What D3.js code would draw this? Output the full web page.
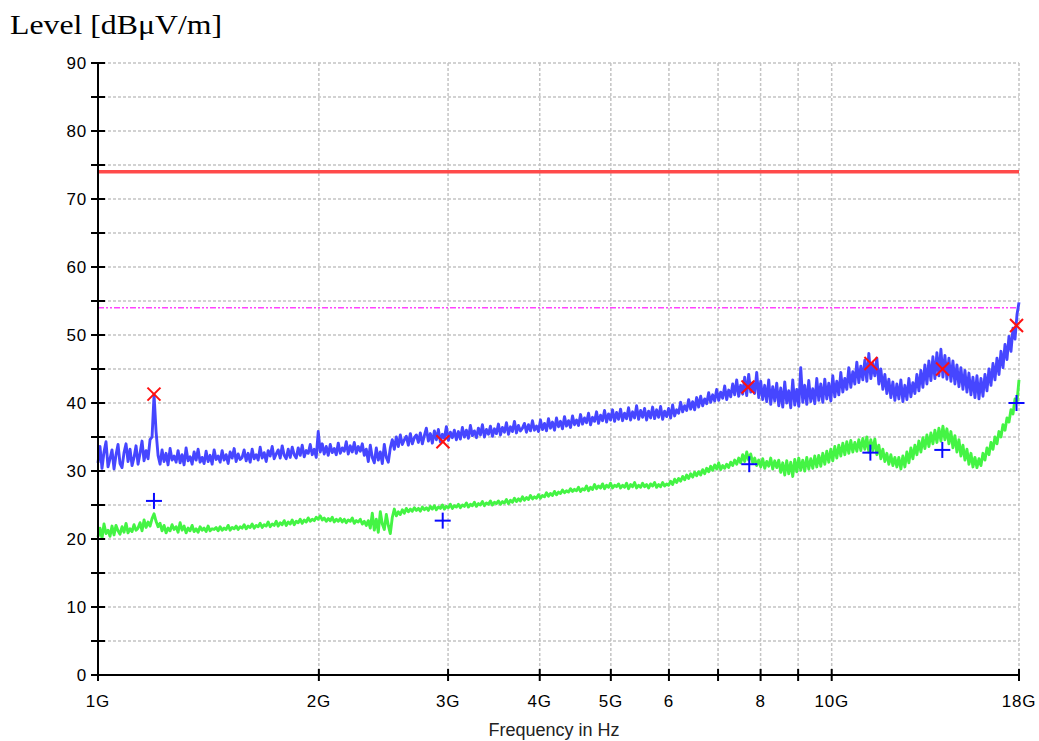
<!DOCTYPE html>
<html>
<head>
<meta charset="utf-8">
<script src="https://cdn.jsdelivr.net/npm/d3@7"></script>
<style>
  html, body { margin: 0; padding: 0; background: #fff; }
  svg { display: block; }
</style>
</head>
<body>
<svg id="chart" width="1039" height="741"></svg>
<script>
// Sweep definition: log-spaced receiver steps from 1 GHz to 18 GHz
const sweepStart = 1e9;
const sweepStop = 18e9;

// Peak detector trace (dBµV/m)
const peakTrace = [
  31.2, 33.6, 30.4, 32.8, 34.3, 30.6, 31.8, 33.1, 30.3, 32.4, 33.9, 31.1, 30.5, 32.7, 34.0, 31.4, 33.2, 30.8, 32.0, 33.7,
  31.0, 32.6, 34.4, 31.5, 33.0, 31.8, 34.6, 35.0, 41.2, 35.8, 32.3, 31.0, 33.1, 31.4, 32.6, 30.9, 33.3, 31.6, 32.2, 31.3,
  33.0, 31.2, 32.4, 30.9, 33.4, 31.5, 32.1, 31.0, 32.8, 31.6, 33.2, 31.3, 32.0, 31.1, 32.9, 31.4, 32.3, 31.0, 33.1, 31.7,
  32.2, 31.3, 33.0, 31.6, 32.4, 31.1, 32.8, 31.9, 33.3, 31.4, 32.5, 31.7, 32.0, 33.1, 31.5, 32.6, 31.3, 33.2, 31.8, 32.4,
  31.6, 33.5, 31.9, 32.7, 31.4, 33.0, 32.2, 33.6, 31.8, 32.5, 33.1, 31.9, 33.7, 32.3, 31.8, 33.2, 32.0, 33.5, 32.4, 31.9,
  33.4, 32.3, 33.8, 32.1, 33.0, 32.6, 33.9, 32.4, 33.2, 32.0, 35.8, 32.8, 34.0, 32.5, 33.6, 32.3, 33.9, 32.7, 33.3, 32.4,
  34.1, 32.6, 33.4, 32.9, 34.3, 32.5, 33.7, 32.8, 34.2, 32.6, 33.6, 32.9, 34.0, 32.3, 33.2, 31.4, 33.8, 32.0, 31.2, 33.4,
  31.6, 32.8, 31.1, 33.9, 32.0, 31.3, 33.4, 34.6, 33.2, 35.0, 33.6, 35.3, 33.9, 34.6, 35.1, 33.8, 35.5, 34.0, 34.9, 35.3,
  34.2, 35.6, 34.0, 35.2, 36.3, 34.4, 35.5, 34.1, 35.9, 34.6, 36.1, 34.3, 35.4, 34.8, 36.5, 34.5, 35.7, 34.9, 36.0, 34.6,
  35.8, 34.7, 36.4, 35.0, 36.0, 34.8, 36.7, 35.2, 35.9, 34.9, 36.3, 35.3, 36.8, 35.0, 36.1, 35.4, 36.6, 35.1, 36.2, 35.5,
  36.9, 35.3, 36.4, 35.7, 37.1, 35.4, 36.5, 35.8, 37.3, 35.6, 36.7, 35.9, 36.3, 37.0, 35.7, 36.8, 35.9, 37.4, 36.0, 36.6,
  35.8, 37.5, 36.1, 37.0, 35.9, 37.7, 36.3, 37.2, 36.0, 37.8, 36.5, 37.3, 36.2, 38.0, 36.6, 37.4, 36.4, 38.1, 36.8, 37.5,
  36.7, 38.3, 36.9, 37.8, 37.1, 38.5, 36.8, 37.9, 37.3, 38.7, 37.0, 38.2, 37.4, 38.9, 37.2, 38.4, 37.5, 39.0, 37.3, 38.6,
  37.6, 39.1, 37.4, 38.5, 37.7, 39.3, 37.5, 38.7, 37.8, 39.6, 37.6, 38.9, 37.9, 39.2, 37.5, 38.8, 37.8, 39.4, 37.7, 39.0,
  37.9, 39.5, 37.6, 38.8, 38.0, 39.2, 37.8, 39.7, 38.1, 39.0, 38.5, 40.1, 38.7, 39.6, 38.9, 40.5, 39.1, 40.2, 39.0, 40.8,
  39.4, 41.0, 39.6, 40.6, 39.9, 41.5, 40.1, 41.2, 40.3, 42.0, 40.4, 41.6, 40.7, 42.5, 40.5, 41.9, 40.9, 42.8, 41.2, 43.4,
  41.0, 42.6, 41.3, 43.8, 41.1, 44.2, 41.6, 43.0, 41.4, 44.5, 40.8, 43.2, 40.5, 42.6, 40.2, 43.4, 39.8, 42.4, 40.3, 42.9,
  39.6, 42.2, 39.4, 43.1, 40.0, 41.8, 39.3, 43.4, 39.7, 42.0, 39.5, 45.2, 40.1, 42.6, 39.8, 43.3, 40.2, 42.1, 39.9, 43.6,
  40.4, 42.8, 40.1, 43.5, 40.6, 42.9, 40.3, 44.0, 40.9, 43.2, 41.2, 44.5, 41.6, 43.6, 42.0, 45.2, 42.3, 44.6, 42.8, 46.0,
  43.0, 45.4, 43.4, 46.3, 43.2, 47.3, 43.6, 45.8, 44.0, 46.6, 42.8, 45.0, 42.0, 44.2, 41.4, 43.5, 40.8, 43.1, 40.4, 42.8,
  40.6, 43.4, 40.2, 42.6, 40.5, 43.6, 40.9, 43.0, 41.4, 44.2, 41.8, 44.8, 42.3, 45.6, 42.8, 46.2, 43.3, 46.8, 43.6, 47.4,
  44.0, 47.9, 43.8, 47.0, 43.5, 46.6, 43.2, 46.2, 42.8, 45.6, 42.4, 45.2, 42.0, 44.8, 41.6, 44.4, 41.2, 43.8, 40.8, 44.0,
  40.6, 43.6, 41.0, 44.2, 41.8, 45.0, 42.6, 45.8, 43.4, 46.6, 44.2, 47.6, 45.2, 48.6, 46.4, 49.8, 47.6, 51.0, 49.4, 53.0,
  54.8
];

// Average detector trace (dBµV/m)
const avgTrace = [
  20.3, 21.6, 20.1, 22.2, 20.8, 21.3, 20.4, 21.9, 20.6, 22.0, 21.2, 20.7, 21.8, 21.0, 22.3, 20.9, 21.5, 21.1, 22.1, 21.3,
  21.6, 22.4, 21.2, 22.8, 21.7, 22.5, 21.9, 23.0, 23.7, 22.6, 21.8, 22.3, 21.2, 22.0, 20.9, 21.6, 21.2, 22.1, 21.4, 21.8,
  21.0, 22.4, 21.3, 21.9, 20.9, 21.6, 21.2, 22.0, 21.1, 21.5, 21.0, 21.8, 21.3, 21.6, 21.1, 21.9, 21.2, 21.5, 21.4, 21.7,
  21.2, 21.8, 21.3, 21.6, 21.4, 22.0, 21.3, 21.7, 21.5, 21.9, 21.4, 21.8, 21.6, 22.1, 21.5, 21.9, 21.7, 22.2, 21.6, 22.0,
  21.8, 22.3, 21.7, 22.1, 21.9, 22.5, 21.8, 22.2, 22.0, 22.6, 21.9, 22.4, 22.1, 22.7, 22.0, 22.5, 22.2, 22.8, 22.1, 22.6,
  22.4, 22.9, 22.3, 22.8, 22.5, 23.1, 22.6, 22.9, 22.7, 23.2, 22.9, 23.4, 22.8, 23.1, 22.6, 23.0, 22.7, 23.2, 22.5, 22.9,
  22.6, 23.0, 22.5, 22.9, 22.4, 22.8, 22.6, 23.1, 22.3, 22.7, 22.5, 22.9, 22.2, 22.6, 22.0, 22.7, 21.6, 23.8, 21.3, 22.9,
  21.0, 24.0, 22.2, 21.4, 23.6, 22.0, 20.8, 23.2, 24.4, 23.4, 24.0, 23.6, 24.3, 23.8, 24.5, 24.0, 24.4, 24.1, 24.6, 24.2,
  24.5, 24.1, 24.7, 24.3, 24.6, 24.2, 24.8, 24.4, 24.9, 24.3, 24.7, 24.5, 25.0, 24.4, 24.8, 24.6, 25.1, 24.5, 24.9, 24.7,
  25.1, 24.6, 25.0, 24.8, 25.3, 24.7, 25.1, 24.9, 25.4, 24.8, 25.2, 25.0, 25.5, 24.9, 25.3, 25.1, 25.6, 25.0, 25.4, 25.2,
  25.6, 25.1, 25.5, 25.3, 25.8, 25.2, 25.7, 25.4, 26.0, 25.5, 25.9, 25.6, 26.2, 25.7, 26.1, 25.8, 26.4, 25.9, 26.2, 26.0,
  26.5, 26.0, 26.4, 26.2, 26.8, 26.3, 26.7, 26.4, 27.0, 26.5, 26.9, 26.7, 27.2, 26.8, 27.1, 26.9, 27.4, 27.0, 27.3, 27.1,
  27.6, 27.0, 27.4, 27.2, 27.8, 27.1, 27.6, 27.3, 28.0, 27.4, 27.8, 27.5, 28.1, 27.4, 27.9, 27.6, 28.2, 27.5, 27.9, 27.7,
  28.1, 27.5, 27.9, 27.6, 28.2, 27.4, 28.0, 27.7, 28.3, 27.5, 27.9, 27.6, 28.2, 27.7, 28.0, 27.5, 28.1, 27.8, 28.3, 27.6,
  28.0, 27.7, 28.3, 27.8, 28.1, 27.9, 28.5, 28.0, 28.8, 28.3, 28.9, 28.5, 29.2, 28.7, 29.4, 28.9, 29.6, 29.1, 29.8, 29.3,
  29.9, 29.4, 30.2, 29.6, 30.4, 29.9, 30.7, 30.1, 30.9, 30.3, 31.2, 30.2, 30.8, 30.4, 31.0, 30.5, 31.3, 30.8, 31.6, 31.0,
  31.9, 31.2, 32.4, 31.4, 32.8, 31.6, 32.5, 31.2, 31.9, 30.8, 31.6, 30.6, 31.8, 30.4, 31.4, 30.7, 31.9, 30.3, 31.5, 30.5,
  31.6, 29.8, 31.2, 29.4, 31.5, 29.6, 31.3, 29.2, 31.7, 29.9, 31.9, 30.1, 31.6, 30.0, 32.0, 30.3, 31.8, 30.4, 32.2, 30.6,
  32.3, 30.7, 32.6, 31.0, 32.9, 31.3, 33.2, 31.5, 33.6, 31.9, 33.8, 32.2, 34.1, 32.4, 34.3, 32.6, 34.5, 32.8, 34.2, 32.9,
  34.6, 33.0, 34.8, 33.2, 35.0, 32.8, 34.6, 33.0, 34.7, 32.4, 33.8, 31.8, 33.2, 31.4, 32.6, 31.0, 32.4, 30.8, 32.0, 30.6,
  32.0, 30.3, 32.2, 30.6, 32.8, 31.2, 33.4, 31.8, 33.8, 32.4, 34.4, 32.8, 34.9, 33.3, 35.3, 33.6, 35.6, 34.0, 36.0, 34.2,
  36.3, 34.4, 36.6, 34.6, 36.2, 34.0, 35.8, 33.4, 35.2, 32.8, 34.6, 32.2, 33.8, 31.6, 33.2, 31.0, 32.6, 30.6, 32.0, 30.5,
  31.8, 30.8, 32.6, 31.6, 33.4, 32.4, 34.2, 33.2, 35.0, 34.0, 35.8, 35.0, 36.8, 36.0, 37.8, 37.2, 39.0, 38.4, 40.6, 40.2,
  43.4
];

// Final measurement points
const peakMarkFreq = [1.192e9, 2.952e9, 7.69e9, 11.31e9, 14.16e9, 17.86e9];
const peakMarkLevel = [41.3, 34.3, 42.35, 45.8, 45.0, 51.4];
const avgMarkFreq = [1.192e9, 2.95e9, 7.72e9, 11.29e9, 14.15e9, 17.86e9];
const avgMarkLevel = [25.6, 22.7, 31.0, 32.7, 33.1, 40.0];

// Limit lines
const peakLimit = 74;
const avgLimit = 54;

// Axes
const xTickValues = [1e9, 2e9, 3e9, 4e9, 5e9, 6e9, 7e9, 8e9, 9e9, 10e9, 18e9];
const xTickLabels = ["1G", "2G", "3G", "4G", "5G", "6", "", "8", "", "10G", "18G"];
const xGridValues = [2e9, 3e9, 4e9, 5e9, 6e9, 7e9, 8e9, 9e9, 10e9, 18e9];
const yTickValues = [0, 10, 20, 30, 40, 50, 60, 70, 80, 90];
const yMinorValues = [5, 15, 25, 35, 45, 55, 65, 75, 85];

const svg = d3.select("#chart");
const plotLeft = 98, plotRight = 1019, plotTop = 63, plotBottom = 675;

const x = d3.scaleLog().domain([sweepStart, sweepStop]).range([plotLeft, plotRight]);
const y = d3.scaleLinear().domain([0, 90]).range([plotBottom, plotTop]);

// Frequency of sweep step i out of n
const stepFreq = (i, n) => sweepStart * Math.pow(sweepStop / sweepStart, i / (n - 1));

// Grid
const grid = svg.append("g").attr("stroke", "#c4c4c4").attr("stroke-width", 1.5)
  .attr("stroke-dasharray", "3,2").attr("fill", "none");
grid.selectAll("line.h").data(d3.range(5, 91, 5)).join("line").attr("class", "h")
  .attr("x1", plotLeft).attr("x2", plotRight).attr("y1", d => y(d)).attr("y2", d => y(d));
grid.selectAll("line.v").data(xGridValues).join("line").attr("class", "v")
  .attr("x1", d => x(d)).attr("x2", d => x(d)).attr("y1", plotTop).attr("y2", plotBottom);

// Limit lines
svg.append("line").attr("x1", plotLeft).attr("x2", plotRight)
  .attr("y1", y(peakLimit)).attr("y2", y(peakLimit))
  .attr("stroke", "#ff4a4a").attr("stroke-width", 3.5);
svg.append("line").attr("x1", plotLeft).attr("x2", plotRight)
  .attr("y1", y(avgLimit)).attr("y2", y(avgLimit))
  .attr("stroke", "#ff44ff").attr("stroke-width", 1.5)
  .attr("stroke-dasharray", "6,2,2,2,2,2");

// Traces
function drawTrace(values, color) {
  const n = values.length;
  const line = d3.line().x((d, i) => x(stepFreq(i, n))).y(d => y(d));
  svg.append("path").datum(values).attr("d", line)
    .attr("fill", "none").attr("stroke", color).attr("stroke-width", 2.9)
    .attr("stroke-linejoin", "round");
}
drawTrace(avgTrace, "#44f444");
drawTrace(peakTrace, "#4646ff");

// Markers
const xm = svg.append("g").attr("stroke", "#ff1010").attr("stroke-width", 2);
peakMarkFreq.forEach((f, i) => {
  const cx = x(f), cy = y(peakMarkLevel[i]), s = 6.5;
  xm.append("line").attr("x1", cx - s).attr("y1", cy - s).attr("x2", cx + s).attr("y2", cy + s);
  xm.append("line").attr("x1", cx - s).attr("y1", cy + s).attr("x2", cx + s).attr("y2", cy - s);
});
const pm = svg.append("g").attr("stroke", "#0a0aff").attr("stroke-width", 2);
avgMarkFreq.forEach((f, i) => {
  const cx = x(f), cy = y(avgMarkLevel[i]), s = 8;
  pm.append("line").attr("x1", cx - s).attr("y1", cy).attr("x2", cx + s).attr("y2", cy);
  pm.append("line").attr("x1", cx).attr("y1", cy - s).attr("x2", cx).attr("y2", cy + s);
});

// Axis lines and ticks
const axes = svg.append("g").attr("stroke", "#000").attr("stroke-width", 2);
axes.append("line").attr("x1", plotLeft).attr("x2", plotLeft).attr("y1", plotTop).attr("y2", plotBottom);
axes.append("line").attr("x1", plotLeft).attr("x2", plotRight).attr("y1", plotBottom).attr("y2", plotBottom);
axes.selectAll("line.yt").data(yTickValues.concat(yMinorValues)).join("line").attr("class", "yt")
  .attr("x1", plotLeft - 7).attr("x2", plotLeft + 7).attr("y1", d => y(d)).attr("y2", d => y(d));
axes.selectAll("line.xt").data(xTickValues).join("line").attr("class", "xt")
  .attr("x1", d => x(d)).attr("x2", d => x(d)).attr("y1", plotBottom - 6).attr("y2", plotBottom + 6);

// Tick labels
const lab = svg.append("g").attr("font-family", "'Liberation Sans', Arial, sans-serif")
  .attr("font-size", 17).attr("fill", "#000").attr("letter-spacing", 0.8);
lab.selectAll("text.y").data(yTickValues).join("text").attr("class", "y")
  .attr("x", 87).attr("y", d => y(d) + 6).attr("text-anchor", "end").text(d => d);
lab.selectAll("text.x").data(xTickValues).join("text").attr("class", "x")
  .attr("x", (d, i) => x(d)).attr("y", 707).attr("text-anchor", "middle")
  .text((d, i) => xTickLabels[i]);

// Titles
svg.append("text").attr("x", 10).attr("y", 34)
  .attr("font-family", "'Liberation Serif', 'Times New Roman', serif")
  .attr("font-size", 28).attr("textLength", 212).attr("lengthAdjust", "spacingAndGlyphs")
  .text("Level [dBμV/m]");
svg.append("text").attr("x", 554).attr("y", 736).attr("text-anchor", "middle")
  .attr("font-family", "'Liberation Sans', Arial, sans-serif")
  .attr("font-size", 18).attr("fill", "#222")
  .text("Frequency in Hz");
</script>
</body>
</html>
